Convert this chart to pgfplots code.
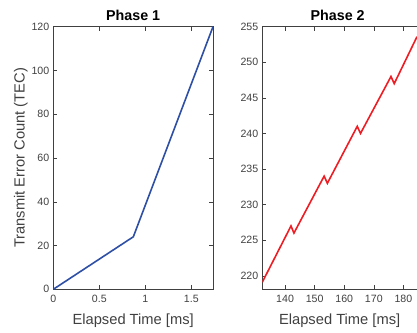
\documentclass[border=0pt]{standalone}
\usepackage{fontspec}
\setmainfont{Liberation Sans}
\usepackage{pgfplots}
\pgfplotsset{compat=1.18}
\definecolor{axgray}{HTML}{404040}
\definecolor{mblue}{HTML}{2E4FA6}
\definecolor{mred}{HTML}{EE1D23}
\begin{document}
\begin{tikzpicture}[x=1bp,y=1bp]
\useasboundingbox (0,0) rectangle (417,333);
\pgfplotsset{
  every axis/.append style={
    scale only axis,
    height=262.6bp,
    axis line style={axgray, line width=0.5bp},
    tick style={axgray, line width=0.5bp},
    major tick length=4bp,
    tick align=inside,
    ticklabel style={font=\fontsize{10.6bp}{12bp}\selectfont, text=axgray},
    xticklabel style={yshift=-2.5bp},
    yticklabel style={xshift=-0.5bp},
    /pgf/number format/assume math mode=true,
    label style={font=\fontsize{14.7bp}{16bp}\selectfont, text=axgray},
    title style={font=\fontsize{14.3bp}{16bp}\selectfont\bfseries, text=black, yshift=-3bp},
    xlabel={Elapsed Time [ms]},
    xlabel style={yshift=-4bp},
    anchor=south west,
  }
}
\begin{axis}[
  at={(53.3bp,43.7bp)},
  width=159.7bp,
  xmin=0, xmax=1.736, ymin=0, ymax=120,
  xtick={0,0.5,1,1.5},
  ytick={0,20,40,60,80,100,120},
  xticklabels={0,0.5,1,1.5},
  title={Phase 1},
  ylabel={Transmit Error Count (TEC)},
  ylabel style={yshift=-3bp},
]
\addplot[mblue, line width=1.6bp] coordinates {(0,0) (0.87,24) (1.736,120)};
\end{axis}
\begin{axis}[
  at={(262.3bp,43.7bp)},
  width=154.7bp,
  xmin=132.3, xmax=184.6, ymin=218.1, ymax=255,
  xtick={140,150,160,170,180},
  ytick={220,225,230,235,240,245,250,255},
  axis y line*=left,
  title={Phase 2},
  title style={xshift=-2bp},
]
\addplot[mred, line width=1.6bp] coordinates {
(132.3,219.1) (142,227) (143,226) (153.2,234) (154.3,233) (164.4,241) (165.5,240) (175.8,248) (176.9,247) (184.6,253.6)};
\end{axis}
\end{tikzpicture}
\end{document}
